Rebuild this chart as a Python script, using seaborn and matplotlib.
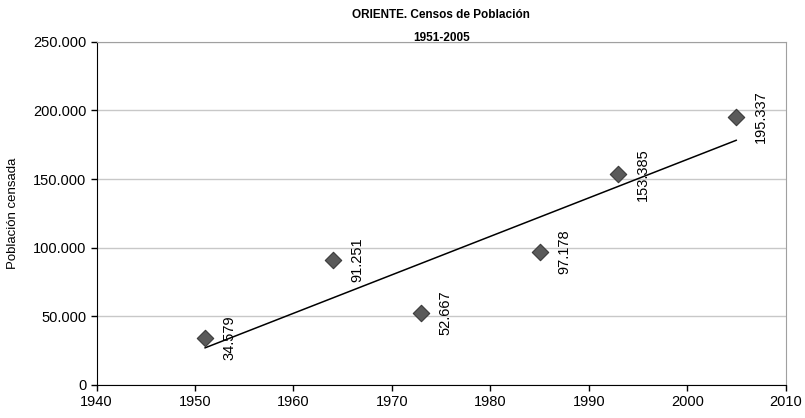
import matplotlib
matplotlib.use("Agg")
import matplotlib.pyplot as plt
import matplotlib.ticker as mticker
import seaborn as sns
import pandas as pd

years = [1951, 1964, 1973, 1985, 1993, 2005]
population = [34579, 91251, 52667, 97178, 153385, 195337]
labels = ["34.579", "91.251", "52.667", "97.178", "153.385", "195.337"]

df = pd.DataFrame({"Año": years, "Población": population})

sns.set_style("white")
plt.rcParams["font.family"] = ["Liberation Sans", "DejaVu Sans"]
plt.rcParams.update({"text.color": "black", "axes.labelcolor": "black",
                     "xtick.color": "black", "ytick.color": "black"})

fig = plt.figure(figsize=(8.05, 4.18), dpi=100)
ax = fig.add_axes([0.12, 0.079, 0.856, 0.821])

sns.regplot(data=df, x="Año", y="Población", ax=ax, scatter=False, ci=None,
            line_kws={"color": "black", "linewidth": 1.1})
sns.scatterplot(data=df, x="Año", y="Población", ax=ax, marker="D", s=70,
                color="#5a5a5a", edgecolor="#3a3a3a", linewidth=0.8, zorder=3)

for x, y, t in zip(years, population, labels):
    ax.annotate(t, (x, y), xytext=(17.5, 0), textcoords="offset points",
                rotation=90, ha="center", va="center", fontsize=10.5)

ax.set_xlim(1940, 2010)
ax.set_ylim(0, 250000)
ax.xaxis.set_major_locator(mticker.MultipleLocator(10))
ax.yaxis.set_major_locator(mticker.MultipleLocator(50000))
ax.yaxis.set_major_formatter(mticker.FuncFormatter(lambda v, p: f"{int(v):,}".replace(",", ".")))
ax.grid(axis="y", color="#c8c8c8", linewidth=1)
ax.set_axisbelow(True)

for s in ["top", "right"]:
    ax.spines[s].set_color("#a0a0a0")
for s in ["left", "bottom"]:
    ax.spines[s].set_color("black")
ax.tick_params(axis="both", direction="out", length=4, width=1, color="black",
               labelsize=10.5, bottom=True, left=True)

ax.set_xlabel("")
ax.set_ylabel("Población censada", fontsize=9.5, labelpad=10)

fig.text(0.548, 0.965, "ORIENTE. Censos de Población", ha="center", va="center",
         fontsize=8.5, fontweight="bold")
fig.text(0.548, 0.91, "1951-2005", ha="center", va="center",
         fontsize=8.5, fontweight="bold")

fig.savefig("out.png", dpi=100)
